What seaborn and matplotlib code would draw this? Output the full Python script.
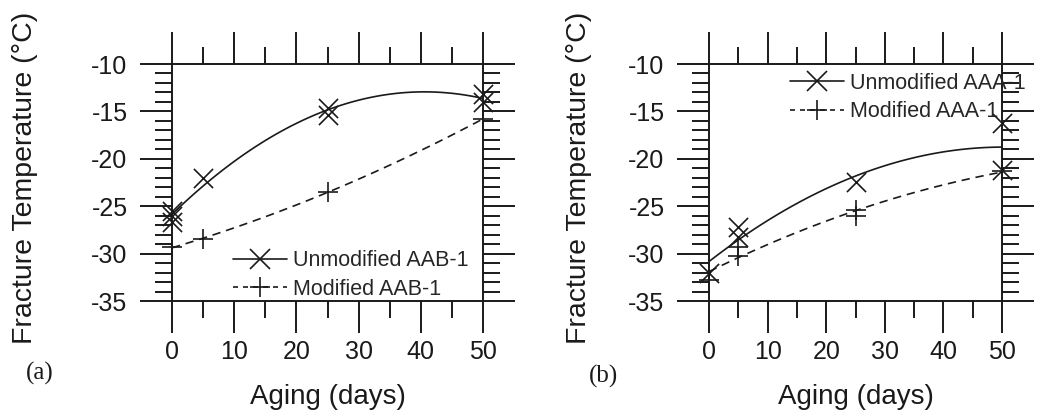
import numpy as np
import pandas as pd
import matplotlib
matplotlib.use("Agg")
import matplotlib.pyplot as plt
from matplotlib.lines import Line2D
from matplotlib.ticker import MultipleLocator
import seaborn as sns

# ---------------- data ----------------
# Panel (a) AAB-1
a_unmod_days = [0, 0, 0, 5, 25, 25, 50, 50]
a_unmod_temp = [-25.5, -26.0, -26.7, -22.0, -14.6, -15.4, -13.2, -14.0]
a_mod_days = [0, 5, 25, 50]
a_mod_temp = [-29.3, -28.5, -23.5, -15.8]

# Panel (b) AAA-1
b_unmod_days = [0, 5, 5, 25, 50, 50]
b_unmod_temp = [-32.0, -27.2, -28.3, -22.4, -16.2, -21.2]
b_mod_days = [0, 5, 5, 25, 25, 50]
b_mod_temp = [-32.8, -29.3, -30.3, -25.4, -26.0, -21.3]

x_ticks = [0, 10, 20, 30, 40, 50]
y_ticks = [-35, -30, -25, -20, -15, -10]
x_label = "Aging (days)"
y_label = "Fracture Temperature (°C)"
legend_a = ["Unmodified AAB-1", "Modified AAB-1"]
legend_b = ["Unmodified AAA-1", "Modified AAA-1"]
panel_tags = ["(a)", "(b)"]

# ---------------- style ----------------
sns.set_style("ticks")
plt.rcParams["font.family"] = ["Liberation Sans", "DejaVu Sans"]
plt.rcParams["axes.unicode_minus"] = False

INK = "#1a1a1a"
W, H = 1051, 419
fig = plt.figure(figsize=(W / 100, H / 100), dpi=100)

def px_axes(x0, x1, y0, y1):
    return fig.add_axes([x0 / W, 1 - y1 / H, (x1 - x0) / W, (y1 - y0) / H])

ax_a = px_axes(172, 483, 64, 301)
ax_b = px_axes(709, 1002, 64, 301)

DASH = (0, (5, 3.5))

def draw(ax, ud, ut, md, mt):
    dfu = pd.DataFrame({"days": ud, "temp": ut})
    dfm = pd.DataFrame({"days": md, "temp": mt})
    sns.regplot(data=dfu, x="days", y="temp", order=2, ci=None, ax=ax,
                marker="x", color=INK,
                scatter_kws={"s": 190, "linewidths": 1.2, "alpha": 1,
                             "zorder": 3, "clip_on": False},
                line_kws={"lw": 1.2, "zorder": 2})
    sns.regplot(data=dfm, x="days", y="temp", order=2, ci=None, ax=ax,
                marker="+", color=INK,
                scatter_kws={"s": 190, "linewidths": 1.2, "alpha": 1,
                             "zorder": 3, "clip_on": False},
                line_kws={"lw": 1.2, "ls": DASH, "zorder": 2})
    ax.set_xlim(0, 50)
    ax.set_ylim(-35, -10)
    ax.set_xticks(x_ticks)
    ax.set_yticks(y_ticks)
    ax.set_yticklabels([str(v) for v in y_ticks])
    ax.xaxis.set_minor_locator(MultipleLocator(5))
    ax.yaxis.set_minor_locator(MultipleLocator(1))
    ax.tick_params(which="both", direction="out", top=True, right=True,
                   labeltop=False, labelright=False, color=INK, width=1.4)
    ax.tick_params(which="major", length=23)
    ax.tick_params(which="minor", length=12)
    ax.tick_params(axis="x", which="major", pad=5, labelsize=18, labelcolor=INK)
    ax.tick_params(axis="y", which="major", pad=9, labelsize=18, labelcolor=INK)
    for s in ax.spines.values():
        s.set_visible(True)
        s.set_linewidth(1.4)
        s.set_color(INK)
    ax.set_xlabel(x_label, fontsize=20, color=INK)
    ax.set_ylabel(y_label, fontsize=20.5, color=INK)
    ax.set_facecolor("white")

draw(ax_a, a_unmod_days, a_unmod_temp, a_mod_days, a_mod_temp)
draw(ax_b, b_unmod_days, b_unmod_temp, b_mod_days, b_mod_temp)

ax_a.xaxis.set_label_coords(0.5, -0.35)
ax_b.xaxis.set_label_coords(0.5, -0.35)
ax_a.yaxis.set_label_coords((38 - 172) / 311, (301 - 178) / 237)
ax_b.yaxis.set_label_coords((592 - 709) / 293, (301 - 178) / 237)

def legend(ax, labels, x, y):
    handles = [
        Line2D([], [], color=INK, lw=1.2, marker="x", ms=14, mew=1.2),
        Line2D([], [], color=INK, lw=1.2, ls=(0, (3, 3)), marker="+", ms=14, mew=1.2),
    ]
    ax.legend(handles, labels, loc="center left", bbox_to_anchor=(x, y),
              frameon=False, fontsize=15.5, handlelength=2.5, handletextpad=0.3,
              labelspacing=0.35, borderpad=0, borderaxespad=0)

legend(ax_a, legend_a, (233 - 172) / 311, (301 - 275) / 237)
legend(ax_b, legend_b, (790 - 709) / 293, (301 - 97.5) / 237)

fig.text(40 / W, 1 - 373 / H, panel_tags[0], family="Liberation Serif",
         fontsize=18, ha="center", va="center", color=INK)
fig.text(603 / W, 1 - 376 / H, panel_tags[1], family="Liberation Serif",
         fontsize=18, ha="center", va="center", color=INK)

fig.savefig("out.png", dpi=100, facecolor="white")
